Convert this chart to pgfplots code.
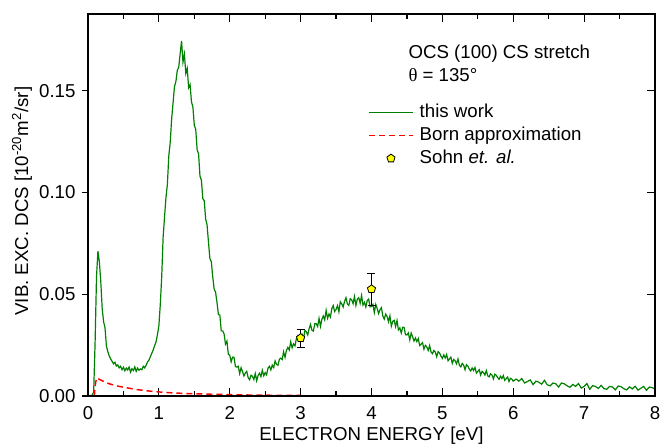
\documentclass[border=0pt]{standalone}
\usepackage{fontspec}
\setmainfont{Liberation Sans}
\newfontfamily\serifgreek{Liberation Serif}
\usepackage{pgfplots}
\pgfplotsset{compat=1.18}
\definecolor{dgreen}{RGB}{0,128,0}
\definecolor{pyellow}{RGB}{255,255,0}
\pgfplotsset{base/.style={width=425.25pt,height=286.5pt,scale only axis,
  xmin=0,xmax=8,ymin=0,ymax=0.1877}}
\begin{document}
\fontsize{14}{16.8}\selectfont
\begin{tikzpicture}
\begin{axis}[base, name=main,
  tick style={black, line width=0.9pt},
  major tick length=6pt, minor tick length=3.75pt,
  xtick={0,1,2,3,4,5,6,7,8}, xticklabels={0,1,2,3,4,5,6,7,8},
  minor xtick={0.5,1.5,2.5,3.5,4.5,5.5,6.5,7.5},
  ytick=\empty, minor ytick={0.025,0.075,0.125,0.175},
  xticklabel style={anchor=north, inner sep=0pt, yshift=-7.5pt},
  xlabel={ELECTRON ENERGY [eV]},
  xlabel style={at={(axis description cs:0.5,-0.1178)}, anchor=base, inner sep=0pt},
  legend style={at={(rel axis cs:0.4938,0.767)}, anchor=north west, draw=none, fill=none, inner sep=0pt,
    row sep=3.8pt, column sep=0pt,
    nodes={inner xsep=4.5pt, inner ysep=0pt, text height=10.5pt, text depth=3pt}},
  legend cell align=left,
  legend image code/.code={\draw[#1] (0pt,0pt) -- (33pt,0pt);}
]
\addplot[dgreen, line width=0.9pt] coordinates {
(0.00,0)(0.02,0.0002)(0.04,0.0003)(0.06,0.0004)(0.08,0.0020)(0.10,0.0260)(0.12,0.0585)(0.14,0.0712)(0.16,0.0660)(0.18,0.0565)
(0.20,0.0430)(0.22,0.0365)(0.24,0.0335)(0.26,0.0245)(0.28,0.0218)(0.30,0.0196)(0.32,0.0182)(0.34,0.0170)(0.36,0.0158)(0.38,0.0166)
(0.40,0.0147)(0.42,0.0153)(0.44,0.0138)(0.46,0.0146)(0.48,0.0129)(0.50,0.0141)(0.52,0.0124)(0.54,0.0137)(0.56,0.0128)(0.58,0.0142)
(0.60,0.0117)(0.62,0.0134)(0.64,0.0125)(0.66,0.0143)(0.68,0.0121)(0.70,0.0137)(0.72,0.0126)(0.74,0.0133)(0.76,0.0129)(0.78,0.0146)
(0.80,0.0138)(0.82,0.0151)(0.84,0.0167)(0.86,0.0176)(0.88,0.0193)(0.90,0.0210)(0.92,0.0226)(0.94,0.0247)(0.96,0.0266)(0.98,0.0302)
(1.00,0.0345)(1.02,0.0450)(1.04,0.0585)(1.06,0.0780)(1.08,0.0880)(1.10,0.0975)(1.12,0.1040)(1.14,0.1180)(1.16,0.1245)(1.18,0.1360)
(1.20,0.1440)(1.22,0.1520)(1.24,0.1545)(1.26,0.1600)(1.28,0.1615)(1.30,0.1680)(1.32,0.1745)(1.34,0.1640)(1.36,0.1680)(1.38,0.1585)
(1.40,0.1610)(1.42,0.1515)(1.44,0.1530)(1.46,0.1445)(1.48,0.1420)(1.50,0.1330)(1.52,0.1310)(1.54,0.1210)(1.56,0.1190)(1.58,0.1080)
(1.60,0.1060)(1.62,0.0970)(1.64,0.0960)(1.66,0.0870)(1.68,0.0840)
(1.70,0.0755)(1.72,0.0675)(1.74,0.0660)(1.76,0.0585)(1.78,0.0525)(1.80,0.0510)(1.82,0.0460)(1.84,0.0400)(1.86,0.0398)(1.88,0.0320)
(1.90,0.0320)(1.92,0.0305)(1.94,0.0255)(1.96,0.0270)(1.98,0.0205)(2.00,0.0200)(2.02,0.0168)(2.04,0.0191)(2.06,0.0190)(2.08,0.0145)
(2.10,0.0142)(2.12,0.0146)(2.14,0.0110)(2.16,0.0139)(2.18,0.0120)(2.20,0.0098)(2.22,0.0113)(2.24,0.0121)(2.26,0.0090)(2.28,0.0080)
(2.30,0.0102)(2.32,0.0097)(2.34,0.0081)(2.36,0.0110)(2.38,0.0075)(2.40,0.0101)(2.42,0.0112)(2.44,0.0095)(2.46,0.0127)(2.48,0.0099)
(2.50,0.0115)(2.52,0.0104)(2.54,0.0137)(2.56,0.0146)(2.58,0.0128)
(2.60,0.0152)(2.62,0.0140)(2.64,0.0172)(2.66,0.0156)(2.68,0.0151)(2.70,0.0180)(2.72,0.0186)(2.74,0.0179)(2.76,0.0217)(2.78,0.0190)
(2.80,0.0224)(2.82,0.0239)(2.84,0.0226)(2.86,0.0266)(2.88,0.0237)(2.90,0.0256)(2.92,0.0246)(2.94,0.0281)(2.96,0.0295)(2.98,0.0274)
(3.00,0.0284)(3.02,0.0303)(3.04,0.0277)(3.06,0.0322)(3.08,0.0315)(3.10,0.0300)(3.12,0.0331)(3.14,0.0352)(3.16,0.0323)(3.18,0.0319)
(3.20,0.0355)(3.22,0.0355)(3.24,0.0341)(3.26,0.0381)(3.28,0.0342)(3.30,0.0377)(3.32,0.0393)(3.34,0.0374)(3.36,0.0421)(3.38,0.0382)
(3.40,0.0403)(3.42,0.0388)(3.44,0.0429)(3.46,0.0444)(3.48,0.0415)(3.50,0.0425)(3.52,0.0444)(3.54,0.0414)(3.56,0.0463)(3.58,0.0453)
(3.60,0.0437)(3.62,0.0465)(3.64,0.0483)(3.66,0.0452)(3.68,0.0445)(3.70,0.0478)(3.72,0.0473)(3.74,0.0454)(3.76,0.0489)(3.78,0.0445)
(3.80,0.0475)(3.82,0.0483)(3.84,0.0456)(3.86,0.0494)(3.88,0.0447)(3.90,0.0460)(3.92,0.0437)(3.94,0.0469)(3.96,0.0476)(3.98,0.0438)
(4.00,0.0440)(4.02,0.0450)(4.04,0.0410)(4.06,0.0450)(4.08,0.0430)(4.10,0.0405)(4.12,0.0424)(4.14,0.0434)(4.16,0.0393)(4.18,0.0378)
(4.20,0.0402)(4.22,0.0391)(4.24,0.0365)(4.26,0.0394)(4.28,0.0343)(4.30,0.0367)(4.32,0.0372)(4.34,0.0341)(4.36,0.0371)(4.38,0.0325)
(4.40,0.0335)(4.42,0.0309)(4.44,0.0338)(4.46,0.0337)(4.48,0.0301)(4.50,0.0300)(4.52,0.0310)(4.54,0.0276)(4.56,0.0309)(4.58,0.0291)
(4.60,0.0270)(4.62,0.0285)(4.64,0.0267)(4.66,0.0282)(4.68,0.0248)(4.70,0.0255)(4.72,0.0262)(4.74,0.0230)(4.76,0.0249)(4.78,0.0241)
(4.80,0.0224)(4.82,0.0248)(4.84,0.0216)(4.86,0.0208)(4.88,0.0224)(4.90,0.0216)(4.92,0.0193)(4.94,0.0218)(4.96,0.0211)(4.98,0.0196)
(5.00,0.0185)(5.02,0.0202)(5.04,0.0187)(5.06,0.0204)(5.08,0.0173)(5.10,0.0182)(5.12,0.0191)(5.14,0.0160)(5.16,0.0180)(5.18,0.0173)
(5.20,0.0158)(5.22,0.0182)(5.24,0.0151)(5.26,0.0143)(5.28,0.0160)(5.30,0.0152)(5.32,0.0129)(5.34,0.0154)(5.36,0.0147)(5.38,0.0132)
(5.40,0.0123)(5.42,0.0138)(5.44,0.0125)(5.46,0.0140)(5.48,0.0113)(5.50,0.0121)(5.52,0.0129)(5.54,0.0103)(5.56,0.0121)(5.58,0.0115)
(5.60,0.0103)(5.62,0.0125)(5.64,0.0099)(5.66,0.0094)(5.68,0.0109)(5.70,0.0103)(5.72,0.0084)(5.74,0.0107)(5.76,0.0102)(5.78,0.0091)
(5.80,0.0082)(5.82,0.0097)(5.84,0.0086)(5.86,0.0100)(5.88,0.0077)(5.90,0.0085)(5.92,0.0093)(5.94,0.0071)(5.96,0.0087)(5.98,0.0083)
(6.00,0.0073)(6.04,0.0083)(6.08,0.0073)(6.12,0.0086)(6.16,0.0064)(6.20,0.0071)(6.24,0.0079)(6.28,0.0056)(6.32,0.0073)(6.36,0.0068)
(6.40,0.0058)(6.44,0.0077)(6.48,0.0055)(6.52,0.0050)(6.56,0.0064)(6.60,0.0060)(6.64,0.0044)(6.68,0.0064)(6.72,0.0060)(6.76,0.0050)
(6.80,0.0043)(6.84,0.0057)(6.88,0.0047)(6.92,0.0061)(6.96,0.0039)(7.00,0.0047)(7.04,0.0061)(7.08,0.0033)(7.12,0.0051)(7.16,0.0047)
(7.20,0.0037)(7.24,0.0052)(7.28,0.0036)(7.32,0.0033)(7.36,0.0047)(7.40,0.0044)(7.44,0.0030)(7.48,0.0049)(7.52,0.0046)(7.56,0.0036)
(7.60,0.0030)(7.64,0.0045)(7.68,0.0035)(7.72,0.0048)(7.76,0.0029)(7.80,0.0038)(7.84,0.0047)(7.88,0.0028)(7.92,0.0044)(7.96,0.0041)
(8.00,0.0035)};
\addlegendentry{this work}
\addplot[red, line width=1.1pt, dash pattern=on 4.5pt off 3pt] coordinates {
(0.09,0)(0.10,0.0050)(0.12,0.0088)(0.15,0.0084)(0.20,0.0075)(0.25,0.0067)(0.30,0.0060)(0.40,0.0050)(0.50,0.0043)(0.60,0.0037)
(0.70,0.0031)(0.80,0.0027)(0.90,0.0023)(1.00,0.0020)(1.20,0.0015)(1.40,0.0012)(1.60,0.0010)(1.80,0.0008)(2.00,0.0007)(2.25,0.0005)
(2.50,0.0004)(2.75,0.0003)(3.00,0.0003)};
\addlegendentry{Born approximation}
\addplot[only marks, mark=pentagon*, mark size=3.2pt, mark options={fill=pyellow, draw=black, line width=0.6pt},
  legend image code/.code={\draw[mark=pentagon*, mark size=3.2pt, mark options={fill=pyellow, draw=black, line width=0.6pt}] plot coordinates {(16.5pt,0pt)};},
  error bars/.cd, y dir=both, y explicit, error bar style={black, line width=0.6pt},
  error mark options={rotate=90, mark size=3pt, black, line width=0.6pt}]
  coordinates {(3,0.0285) +- (0,0.0044) (4,0.0525) +- (0,0.0078)};
\addlegendentry{Sohn \textit{et. al.}}
\end{axis}
\begin{axis}[base, axis y line*=right, hide x axis,
  tick style={black, line width=0.9pt}, major tick length=6pt,
  ytick={0,0.05,0.1,0.15}, yticklabels={}]
\end{axis}
\begin{axis}[base, axis y line*=left, hide x axis, tick align=outside,
  tick style={black, line width=0.9pt}, major tick length=4.5pt,
  ytick={0,0.05,0.1,0.15}, yticklabels={0.00,0.05,0.10,0.15},
  ylabel={VIB. EXC. DCS [10\textsuperscript{-20}m\textsuperscript{2}/sr]},
  ylabel style={at={(axis description cs:-0.1058,0.51)}, anchor=base, inner sep=0pt}]
\end{axis}
\draw[line width=0.9pt] (0pt,0pt) rectangle (425.25pt,286.5pt);
\node[anchor=base west, inner sep=0pt] at (240.2pt,253pt) {OCS (100) CS stretch};
\node[anchor=base west, inner sep=0pt] at (240.2pt,236pt) {{\serifgreek θ} = 135°};
\pgfresetboundingbox
\useasboundingbox (-66pt,-39pt) rectangle (429pt,297pt);
\end{tikzpicture}
\end{document}
